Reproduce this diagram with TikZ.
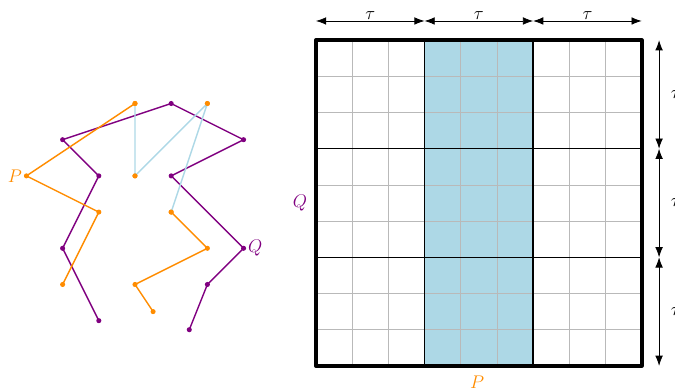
\documentclass[tikz,border=0pt]{standalone}
\usetikzlibrary{arrows.meta}
\definecolor{porange}{RGB}{255,140,0}
\definecolor{ppurple}{RGB}{128,0,128}
\definecolor{pblue}{RGB}{173,216,230}
\tikzset{
  pline/.style={ppurple,line width=1.1pt},
  oline/.style={porange,line width=1.1pt},
  bline/.style={pblue,line width=1.1pt},
  pdot/.style={circle,fill=ppurple,inner sep=0pt,minimum size=4pt},
  odot/.style={circle,fill=porange,inner sep=0pt,minimum size=4pt},
  dim/.style={line width=0.6pt,{Latex[length=8pt,width=6pt]}-{Latex[length=8pt,width=6pt]}},
  lab/.style={font=\Large}
}
\begin{document}
\begin{tikzpicture}[x=1cm,y=1cm]
\useasboundingbox (-8.73,-0.69) rectangle (9.92,10.11);
% grid
\fill[pblue] (3,0) rectangle (6,9);
\draw[gray!55,line width=0.5pt] (0,0) grid (9,9);
\draw[line width=1.1pt] (3,0) -- (3,9) (6,0) -- (6,9) (0,3) -- (9,3) (0,6) -- (9,6);
\draw[line width=3pt,line join=round] (0,0) rectangle (9,9);
% dimension arrows
\coordinate (t0) at (0,9.53); \coordinate (t1) at (3,9.53);
\coordinate (t2) at (6,9.53); \coordinate (t3) at (9,9.53);
\draw[dim] (t0) -- node[above,lab,inner sep=1pt] {$\tau$} (t1);
\draw[dim] (t1) -- node[above,lab,inner sep=1pt] {$\tau$} (t2);
\draw[dim] (t2) -- node[above,lab,inner sep=1pt] {$\tau$} (t3);
\coordinate (r0) at (9.48,9); \coordinate (r1) at (9.48,6);
\coordinate (r2) at (9.48,3); \coordinate (r3) at (9.48,0);
\draw[dim] (r0) -- node[right,lab,inner sep=9pt] {$\tau$} (r1);
\draw[dim] (r1) -- node[right,lab,inner sep=9pt] {$\tau$} (r2);
\draw[dim] (r2) -- node[right,lab,inner sep=9pt] {$\tau$} (r3);
\node[lab,text=ppurple] (Qg) at (-0.44,4.5) {$Q$};
\node[lab,text=porange] (Pg) at (4.45,-0.44) {$P$};
% left figure: purple
\node[pdot] (a1) at (-6,1.25) {};
\node[pdot] (a2) at (-7,3.25) {};
\node[pdot] (a3) at (-6,5.25) {};
\node[pdot] (a4) at (-7,6.25) {};
\node[pdot] (a5) at (-4,7.25) {};
\node[pdot] (a6) at (-2,6.25) {};
\node[pdot] (a7) at (-4,5.25) {};
\node[pdot] (a8) at (-2,3.25) {};
\node[pdot] (a9) at (-3,2.25) {};
\node[pdot] (a10) at (-3.5,1.0) {};
\draw[pline] (a1.center) -- (a2.center) -- (a3.center) -- (a4.center) -- (a5.center) -- (a6.center) -- (a7.center) -- (a8.center) -- (a9.center) -- (a10.center);
% orange
\node[odot] (b1) at (-7,2.25) {};
\node[odot] (b2) at (-6,4.25) {};
\node[odot] (b3) at (-8,5.25) {};
\node[odot] (b4) at (-5,7.25) {};
\node[odot] (b5) at (-5,5.25) {};
\node[odot] (b6) at (-3,7.25) {};
\node[odot] (b7) at (-4,4.25) {};
\node[odot] (b8) at (-3,3.25) {};
\node[odot] (b9) at (-5,2.25) {};
\node[odot] (b10) at (-4.5,1.5) {};
\draw[bline] (b4.center) -- (b5.center) -- (b6.center) -- (b7.center);
\draw[oline] (b1.center) -- (b2.center) -- (b3.center) -- (b4.center);
\draw[oline] (b7.center) -- (b8.center) -- (b9.center) -- (b10.center);
\node[odot] at (b4) {};
\node[odot] at (b5) {};
\node[odot] at (b6) {};
\node[odot] at (b7) {};
\node[lab,text=porange,left=0pt] (Pl) at (b3) {$P$};
\node[lab,text=ppurple,right=0pt] (Ql) at (a8) {$Q$};
\end{tikzpicture}
\end{document}
